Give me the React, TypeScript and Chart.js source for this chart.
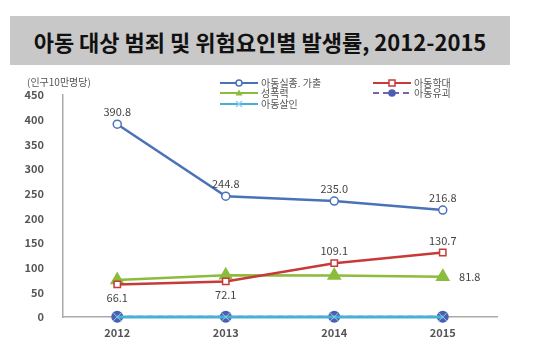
import React, { useEffect, useRef } from "react";
import { Chart, registerables } from "chart.js";

Chart.register(...registerables);

const titleText = "아동 대상 범죄 및 위험요인별 발생률, 2012-2015";
const unitText = "(인구10만명당)";
const years = ["2012", "2013", "2014", "2015"];
const missing = [390.8, 244.8, 235.0, 216.8];
const abuse = [66.1, 72.1, 109.1, 130.7];
const sexual = [75.0, 84.5, 84.0, 81.8];
const kidnap = [0.4, 0.4, 0.3, 0.3];
const murder = [0.2, 0.2, 0.2, 0.2];
const yTicks = [0, 50, 100, 150, 200, 250, 300, 350, 400, 450];

const missingLabelPos = ["above", "above", "above", "above"];
const abuseLabelPos = ["below", "below", "above", "above"];
const sexualLabelPos = [null, null, null, "right"];

const FONT = "'Noto Sans CJK KR', 'Noto Sans', sans-serif";

const labelPlugin = {
  id: "valueLabels",
  afterDatasetsDraw(chart: any) {
    const ctx = chart.ctx;
    ctx.save();
    ctx.font = `11px ${FONT}`;
    ctx.fillStyle = "#444";
    ctx.textAlign = "center";
    ctx.textBaseline = "middle";
    chart.data.datasets.forEach((ds: any, i: number) => {
      const pos = ds.labelPos;
      if (!pos) return;
      const meta = chart.getDatasetMeta(i);
      meta.data.forEach((pt: any, j: number) => {
        const p = pos[j];
        if (!p) return;
        const txt = ds.data[j].toFixed(1);
        let x = pt.x, y = pt.y;
        if (p === "above") y -= 12;
        else if (p === "below") y += 13;
        else if (p === "right") x += 27;
        ctx.fillText(txt, x, y);
      });
    });
    ctx.restore();
  },
};

const legendPlugin = {
  id: "customLegend",
  afterDraw(chart: any) {
    const ctx = chart.ctx;
    const slots = [
      [220, 83], [373, 83],
      [220, 93], [373, 93],
      [220, 104],
    ];
    ctx.save();
    chart.data.datasets.forEach((ds: any, i: number) => {
      const [x, y] = slots[i];
      ctx.strokeStyle = ds.borderColor;
      ctx.lineWidth = 2;
      ctx.setLineDash(ds.borderDash || []);
      ctx.beginPath();
      ctx.moveTo(x, y);
      ctx.lineTo(x + 38, y);
      ctx.stroke();
      ctx.setLineDash([]);
      ctx.fillStyle = ds.pointBackgroundColor;
      ctx.strokeStyle = ds.pointBorderColor;
      ctx.lineWidth = 1.5;
      ctx.beginPath();
      if (ds.pointStyle === "circle") {
        ctx.arc(x + 19, y, 3, 0, Math.PI * 2);
        ctx.fill();
        ctx.stroke();
      } else if (ds.pointStyle === "rect") {
        ctx.rect(x + 16, y - 3, 6, 6);
        ctx.fill();
        ctx.stroke();
      } else if (ds.pointStyle === "triangle") {
        ctx.moveTo(x + 19, y - 3.5);
        ctx.lineTo(x + 22.5, y + 2.5);
        ctx.lineTo(x + 15.5, y + 2.5);
        ctx.closePath();
        ctx.fill();
      } else {
        ctx.moveTo(x + 16, y - 3);
        ctx.lineTo(x + 22, y + 3);
        ctx.moveTo(x + 22, y - 3);
        ctx.lineTo(x + 16, y + 3);
        ctx.stroke();
      }
      ctx.font = `10px ${FONT}`;
      ctx.fillStyle = "#555";
      ctx.textAlign = "left";
      ctx.textBaseline = "alphabetic";
      ctx.fillText(ds.label, x + 41, y + 4);
    });
    ctx.font = `10px ${FONT}`;
    ctx.fillStyle = "#555";
    ctx.textAlign = "left";
    ctx.textBaseline = "alphabetic";
    ctx.fillText(unitText, 27, 86);
    ctx.restore();
  },
};

export default function App() {
  const ref = useRef<HTMLCanvasElement>(null);
  useEffect(() => {
    document.body.style.margin = "0";
    const chart = new Chart(ref.current!, {
      type: "line",
      data: {
        labels: years,
        datasets: [
          {
            label: "아동실종. 가출",
            data: missing,
            borderColor: "#4a72b8",
            borderWidth: 2.5,
            pointStyle: "circle",
            pointRadius: 4,
            pointBackgroundColor: "#ffffff",
            pointBorderColor: "#4a72b8",
            pointBorderWidth: 1.5,
            labelPos: missingLabelPos,
            order: 3,
          } as any,
          {
            label: "아동학대",
            data: abuse,
            borderColor: "#c83a3a",
            borderWidth: 2.5,
            pointStyle: "rect",
            pointRadius: 4.5,
            pointBackgroundColor: "#ffffff",
            pointBorderColor: "#c83a3a",
            pointBorderWidth: 1.5,
            labelPos: abuseLabelPos,
            order: 2,
          } as any,
          {
            label: "성폭력",
            data: sexual,
            borderColor: "#8cbc3c",
            borderWidth: 2.5,
            pointStyle: "triangle",
            pointRadius: 6,
            pointBackgroundColor: "#8cbc3c",
            pointBorderColor: "#8cbc3c",
            labelPos: sexualLabelPos,
            order: 4,
          } as any,
          {
            label: "아동유괴",
            data: kidnap,
            borderColor: "#7a62a8",
            borderWidth: 2,
            borderDash: [6, 4],
            pointStyle: "circle",
            pointRadius: 5,
            pointBackgroundColor: "#4a5fb0",
            pointBorderColor: "#4a5fb0",
            clip: false,
            order: 5,
          } as any,
          {
            label: "아동살인",
            data: murder,
            borderColor: "#4aafd4",
            borderWidth: 3,
            pointStyle: "crossRot",
            pointRadius: 6,
            pointBorderColor: "#8fd0f0",
            pointBackgroundColor: "#8fd0f0",
            pointBorderWidth: 1,
            clip: false,
            order: 1,
          } as any,
        ],
      },
      options: {
        animation: false,
        responsive: false,
        layout: { padding: { top: 95, right: 53, left: 0, bottom: 0 } },
        plugins: {
          legend: { display: false },
          tooltip: { enabled: false },
          title: { display: false },
        },
        scales: {
          x: {
            offset: true,
            grid: { display: false },
            border: { color: "#aaaaaa", width: 1.5 },
            ticks: {
              color: "#555",
              font: { family: FONT, size: 11, weight: "bold" },
              padding: 1,
            },
            afterFit: (s: any) => { s.height = 45; },
          },
          y: {
            min: 0,
            max: 450,
            afterBuildTicks: (s: any) => { s.ticks = yTicks.map((v) => ({ value: v })); },
            grid: { display: false },
            border: { color: "#aaaaaa", width: 1.5 },
            ticks: {
              color: "#555",
              font: { family: FONT, size: 11, weight: "bold" },
              padding: 11,
            },
            afterFit: (s: any) => { s.width = 63; },
          },
        },
      },
      plugins: [labelPlugin, legendPlugin],
    });
    return () => chart.destroy();
  }, []);

  return (
    <div style={{ position: "relative", width: 550, height: 362, background: "#fff" }}>
      <div
        style={{
          position: "absolute",
          left: 10,
          top: 16,
          width: 500,
          height: 49,
          background: "#c8c8c8",
          display: "flex",
          alignItems: "center",
          justifyContent: "center",
          fontFamily: FONT,
          fontWeight: "bold",
          fontSize: 22,
          color: "#111",
        }}
      >
        {titleText}
      </div>
      <canvas ref={ref} width={550} height={362} style={{ position: "absolute", left: 0, top: 0 }} />
    </div>
  );
}
